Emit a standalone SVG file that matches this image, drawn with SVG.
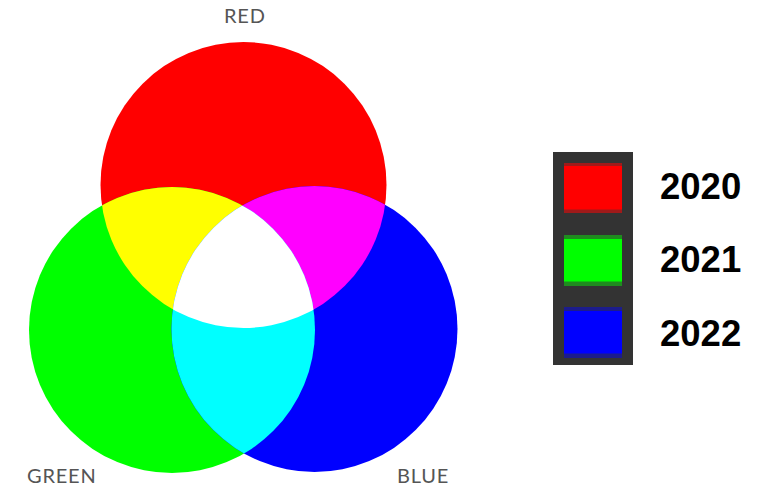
<svg xmlns="http://www.w3.org/2000/svg" width="770" height="498" viewBox="0 0 770 498">
<style>
.lbl{font-family:Lato,"Open Sans","Liberation Sans",sans-serif;font-size:20px;fill:#555;letter-spacing:0.8px}
.yr{font-family:"Liberation Sans",Arial,sans-serif;font-weight:bold;font-size:36.5px;fill:#000}
</style>
<defs>
<circle id="cR" cx="243.5" cy="185" r="143"/>
<circle id="cG" cx="172" cy="330" r="143"/>
<circle id="cB" cx="314.5" cy="329" r="143"/>
<clipPath id="clipR"><use href="#cR"/></clipPath>
<clipPath id="clipG"><use href="#cG"/></clipPath>
</defs>
<rect width="770" height="498" fill="#fff"/>
<g id="venn">
<g id="red"><use href="#cR" fill="#ff0000"/></g>
<g id="green"><use href="#cG" fill="#00ff00"/></g>
<g id="blue"><use href="#cB" fill="#0000ff"/></g>
<g id="yellow" clip-path="url(#clipR)"><use href="#cG" fill="#ffff00"/></g>
<g id="magenta" clip-path="url(#clipR)"><use href="#cB" fill="#ff00ff"/></g>
<g id="cyan" clip-path="url(#clipG)"><use href="#cB" fill="#00ffff"/></g>
<g id="white" clip-path="url(#clipR)"><g clip-path="url(#clipG)"><use href="#cB" fill="#ffffff"/></g></g>
</g>
<g id="labels">
<text class="lbl" x="224" y="23">RED</text>
<text class="lbl" x="27" y="483">GREEN</text>
<text class="lbl" x="397" y="483">BLUE</text>
</g>
<g id="legend">
<rect x="553" y="152" width="80" height="213" fill="#333"/>
<g id="leg2020">
<rect x="564" y="163" width="58" height="50" fill="#a01a1a"/>
<rect x="564" y="166" width="58" height="43.5" fill="#ff0000"/>
<text class="yr" x="660" y="199">2020</text>
</g>
<g id="leg2021">
<rect x="564" y="235" width="58" height="51" fill="#1f8c1f"/>
<rect x="564" y="239" width="58" height="42.5" fill="#00ff00"/>
<text class="yr" x="660" y="271.5">2021</text>
</g>
<g id="leg2022">
<rect x="564" y="307" width="58" height="51" fill="#1c1c8c"/>
<rect x="564" y="311" width="58" height="42.5" fill="#0000ff"/>
<text class="yr" x="660" y="345.5">2022</text>
</g>
</g>
</svg>
